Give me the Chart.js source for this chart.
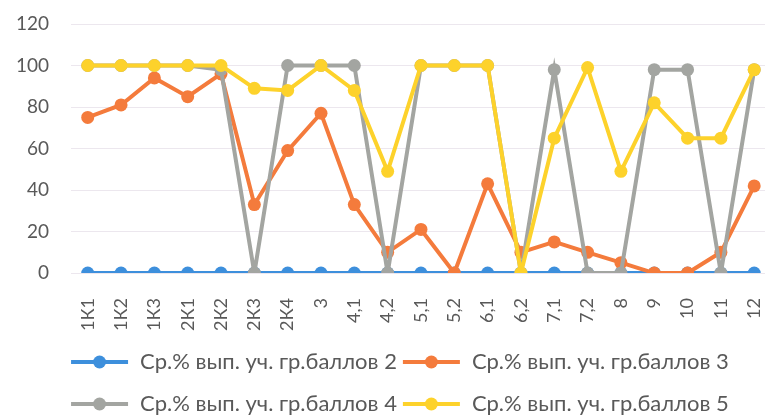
<!DOCTYPE html>
<html lang="ru">
<head>
    <meta charset="UTF-8">
    <title>Ср.% выполнения</title>
    <style>
        body { margin: 0; background: #fff; overflow: hidden; }
        #wrap { width: 765px; height: 419px; overflow: hidden; }
        #myChart { margin-left: -17px; display: block; }
    </style>
</head>
<body>
    <div id="wrap">
        <canvas id="myChart" width="810" height="419"></canvas>
    </div>

<script src="https://cdn.jsdelivr.net/npm/chart.js@4.4.1/dist/chart.umd.min.js"></script>
<script>
    // задания
    const tasks = ['1К1','1К2','1К3','2К1','2К2','2К3','2К4','3','4,1','4,2','5,1','5,2',
                   '6,1','6,2','7,1','7,2','8','9','10','11','12'];

    // Ср.% по группам баллов
    const ball2 = [0,0,0,0,0,0,0,0,0,0,0,0,0,0,0,0,0,0,0,0,0];
    const ball3 = [75,81,94,85,96,33,59,77,33,10,21,0,43,10,15,10,5,0,0,10,42];
    const ball4 = [100,100,100,100,98,0,100,100,100,0,100,100,100,0,98,0,0,98,98,0,98];
    const ball5 = [100,100,100,100,100,89,88,100,88,49,100,100,100,0,65,99,49,82,65,65,98];

    const yTicks = [0,20,40,60,80,100,120];

    const textColor = '#595959';
    const fontFamily = 'Lato, "Open Sans", sans-serif';

    function series(label, data, color, order) {
        return {
            label: label,
            data: data,
            borderColor: color,
            backgroundColor: color,
            borderWidth: 4,
            pointRadius: 6.5,
            pointBorderWidth: 0,
            pointBackgroundColor: color,
            tension: 0,
            order: order
        }
    }

    // легенда: линия с маркером, по два элемента в ряд
    const lineLegend = {
        id: 'lineLegend',
        afterDraw(chart) {
            const ctx = chart.ctx;
            const sets = chart.data.datasets;
            const left = chart.chartArea.left;
            ctx.save();
            ctx.font = '22px ' + fontFamily;
            ctx.textBaseline = 'middle';
            ctx.fillStyle = textColor;
            const col0 = Math.max(ctx.measureText(sets[0].label).width, ctx.measureText(sets[2].label).width);
            sets.forEach((ds, i) => {
                const row = Math.floor(i / 2);
                const col = i % 2;
                const y = chart.height - 57 + row * 42;
                const x = col === 0 ? left : left + 57 + 12 + col0 + 6;
                ctx.strokeStyle = ds.borderColor;
                ctx.lineWidth = 4;
                ctx.beginPath();
                ctx.moveTo(x, y);
                ctx.lineTo(x + 57, y);
                ctx.stroke();
                ctx.fillStyle = ds.borderColor;
                ctx.beginPath();
                ctx.arc(x + 28.5, y, 6.5, 0, Math.PI * 2);
                ctx.fill();
                ctx.fillStyle = textColor;
                ctx.fillText(ds.label, x + 69, y);
            });
            ctx.restore();
        }
    };

    const myChart = new Chart('myChart', {
        type: 'line',
        data: {
            labels: tasks,
            datasets: [
                series('Ср.% вып. уч. гр.баллов 2', ball2, '#3d8fdc', 4),
                series('Ср.% вып. уч. гр.баллов 3', ball3, '#f47b3c', 3),
                series('Ср.% вып. уч. гр.баллов 4', ball4, '#a3a5a1', 2),
                series('Ср.% вып. уч. гр.баллов 5', ball5, '#fdd22b', 1)
            ]
        },
        options: {
            responsive: false,
            animation: false,
            layout: { padding: { left: 31, right: 8, top: 24, bottom: 71 } },
            plugins: {
                legend: { display: false },
                tooltip: { enabled: false }
            },
            scales: {
                x: {
                    offset: true,
                    grid: { display: false },
                    border: { display: false },
                    ticks: {
                        color: textColor,
                        font: { size: 18, family: fontFamily },
                        minRotation: 90,
                        maxRotation: 90,
                        autoSkip: false,
                        padding: 17
                    }
                },
                y: {
                    min: 0,
                    max: 120,
                    afterBuildTicks: (axis) => { axis.ticks = yTicks.map(v => ({ value: v })); },
                    grid: { color: '#ece7ee', lineWidth: 1, drawTicks: true, tickLength: 20, tickColor: 'rgba(0,0,0,0)' },
                    border: { display: false },
                    ticks: {
                        color: textColor,
                        font: { size: 19, family: fontFamily },
                        padding: 2
                    }
                }
            }
        },
        plugins: [lineLegend]
    });
</script>
</body>
</html>
